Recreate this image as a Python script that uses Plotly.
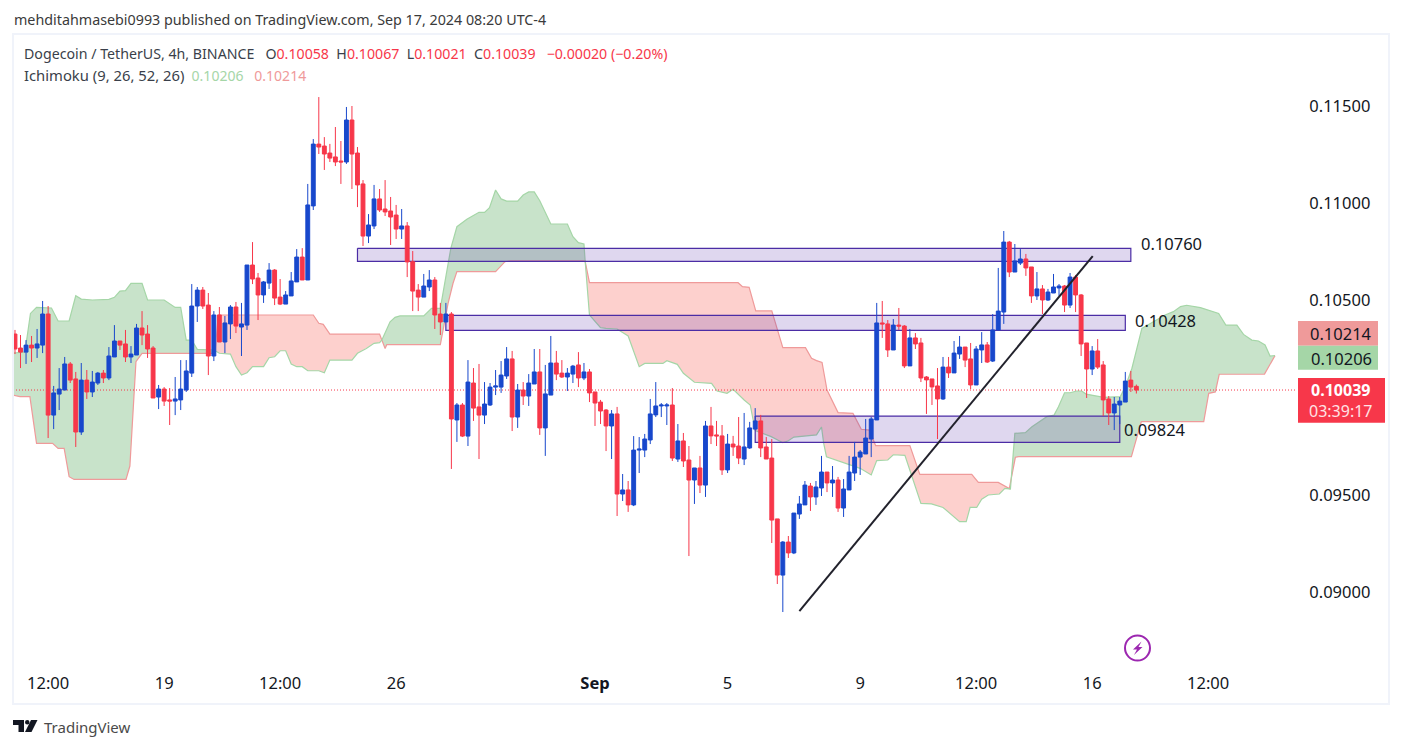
import pandas as pd
import numpy as np
import plotly.graph_objects as go

TICK = 1e-5  # prices below are in hundred-thousandths of a USDT
START = pd.Timestamp("2024-08-14 12:00")

opens = [10327,10255,10234,10270,10255,10270,10430,9910,10018,10039,
10173,10096,9823,10090,10029,10075,10126,10101,10209,10291,
10276,10209,10219,10358,10327,10255,10003,10044,9988,9982,
9988,10039,10126,10471,10553,10476,10214,10425,10286,10379,
10466,10363,10373,10682,10615,10528,10589,10656,10517,10481,
10523,10595,10723,10605,10986,11304,11294,11258,11238,11217,
11212,11428,11258,11099,10831,10883,11022,10970,10960,10939,
10867,10883,10699,10553,10517,10569,10605,10430,10389,10430,
9885,9962,9802,10075,9952,9910,9962,10054,10054,10111,
10199,9900,10039,10008,10070,10132,9844,10013,10178,10126,
10106,10121,10168,10101,10132,10029,9977,9936,9854,9916,
9504,9525,9448,9730,9730,9782,9911,9957,9957,9962,
9684,9777,9679,9576,9638,9550,9854,9808,9803,9628,
9761,9751,9684,9741,9838,9880,9746,9689,9376,9087,
9257,9201,9401,9448,9545,9489,9535,9617,9561,9576,
9432,9525,9612,9694,9710,9787,9885,10384,10379,10245,
10373,10368,10163,10307,10281,10106,10096,10060,9993,10157,
10127,10224,10260,10199,10065,10245,10271,10188,10348,10440,
10800,10646,10692,10713,10672,10523,10559,10502,10538,10564,
10574,10476,10620,10528,10281,10147,10240,10168,9993,9921,
9962,9977,10090,10058]

closes = [10250,10234,10270,10255,10276,10430,9910,10024,10044,10173,
10090,9823,10090,10029,10080,10126,10101,10214,10291,10270,
10209,10224,10358,10322,10250,9998,10044,9982,9982,9993,
10044,10137,10471,10553,10471,10214,10425,10286,10384,10466,
10368,10379,10682,10610,10528,10595,10656,10512,10481,10528,
10600,10723,10605,10991,11304,11289,11253,11232,11212,11212,
11428,11253,11094,10831,10888,11022,10965,10955,10929,10867,
10883,10698,10548,10517,10574,10605,10425,10389,10430,9890,
9962,9802,10080,9946,9910,9967,10054,10060,10116,10199,
9900,10039,10008,10075,10132,9844,10019,10178,10121,10106,
10126,10162,10101,10132,10024,9972,9931,9854,9916,9504,
9525,9448,9730,9735,9787,9916,9957,9962,9962,9689,
9777,9674,9576,9638,9550,9854,9803,9803,9628,9761,
9746,9689,9746,9844,9880,9741,9684,9370,9087,9257,
9201,9406,9453,9550,9489,9540,9617,9561,9576,9432,
9530,9617,9694,9720,9792,9890,10384,10379,10245,10373,
10368,10163,10307,10276,10101,10091,10055,9993,10157,10127,
10229,10260,10193,10065,10250,10271,10183,10348,10445,10800,
10646,10703,10713,10667,10523,10559,10502,10543,10569,10574,
10476,10620,10528,10276,10147,10240,10157,9988,9921,9967,
9982,10085,10054,10039]

highs = [10348,10322,10296,10317,10353,10497,10471,10060,10152,10209,
10183,10132,10178,10142,10137,10132,10142,10260,10373,10291,
10348,10265,10379,10445,10373,10265,10065,10054,10049,10106,
10193,10193,10584,10569,10569,10538,10445,10466,10420,10476,
10492,10487,10682,10800,10641,10600,10692,10661,10610,10548,
10646,10764,10769,11099,11330,11546,11340,11305,11392,11320,
11495,11500,11289,11119,10944,11094,11073,11119,11032,10991,
10970,10903,10754,10584,10636,10656,10620,10487,10487,10440,
9972,9972,10193,10152,10173,10080,10075,10142,10188,10260,
10240,10070,10080,10121,10250,10250,10168,10317,10240,10193,
10152,10168,10234,10178,10147,10029,9988,9941,9936,9952,
9607,9571,9802,9797,9813,9993,10080,9972,9972,10049,
9864,9818,9751,9638,9700,9880,9952,9880,9859,9813,
9803,9900,9921,9875,9946,9911,9797,9787,9376,9262,
9288,9406,9494,9571,9561,9571,9700,9617,9648,9592,
9581,9700,9772,9730,9890,9900,10487,10497,10399,10404,
10461,10373,10353,10332,10307,10111,10096,10152,10209,10209,
10291,10317,10260,10281,10265,10337,10286,10430,10667,10857,
10806,10790,10764,10739,10672,10646,10579,10559,10636,10584,
10579,10641,10631,10533,10281,10265,10301,10188,10008,10003,
10003,10132,10137,10067]

lows = [10224,10152,10173,10183,10204,10229,9792,9838,9936,10039,
10075,9746,9808,9993,10003,10065,10075,10090,10209,10245,
10183,10178,10219,10270,10204,9998,9941,9957,9859,9910,
9936,10029,10106,10389,10456,10116,10188,10286,10229,10301,
10332,10214,10348,10584,10399,10487,10559,10476,10476,10481,
10523,10595,10605,10605,10965,11253,11171,11212,11191,11099,
11202,11073,10980,10780,10795,10867,10955,10934,10785,10816,
10816,10620,10445,10445,10517,10548,10353,10322,10389,9633,
9772,9797,9751,9880,9684,9864,9957,10013,10024,10096,
9828,9844,9962,9957,10070,9808,9700,10013,10090,10101,
10034,10075,10054,10090,9977,9854,9864,9725,9684,9391,
9468,9412,9442,9612,9694,9761,9900,9900,9859,9674,
9669,9643,9185,9453,9509,9489,9761,9751,9602,9612,
9700,9658,9653,9736,9838,9694,9684,9252,9041,8897,
9175,9195,9376,9448,9417,9448,9494,9514,9489,9412,
9386,9525,9571,9602,9710,9694,9885,10307,10209,10245,
10348,10152,10163,10250,10080,9916,9962,9787,9988,10101,
10127,10199,10157,10044,10065,10178,10178,10183,10348,10379,
10620,10646,10682,10626,10487,10502,10430,10497,10538,10523,
10440,10461,10440,10214,9998,10116,10147,9905,9859,9833,
9864,9977,10029,10021]

# Ichimoku leading spans: bar number (from first candle) and price
span_a_bar = [-1,1.8,2.8,3.9,6.6,7.8,9.8,11,12,14,17,18,19,20,21,23,24,27,29,30,31,32,33,36,37,39,40,41,42,43,45,46,47,48,49,50,51,52,53,55,56,
              57,61,62,63.6,65,66,66.4,67.9,68.8,69.7,74,75.4,77,78,78.9,80,81.8,84,85,85.9,87,88,89,91,92,93,94,95,97,100,101,102,103,103.2,104,106,107,109,111,113,114,
              115,117.3,118,119.9,121,123,126.1,127.1,128.9,130,132,133.1,134,136.9,139,140,141,145.1,146,146.4,146.9,149.9,153,155,156,158,159,161.1,164,165.9,168,171,172.2,172.9,174.1,175,176.2,178.2,179.2,180.2,180.8,181,182.9,184.1,186.8,188.1,188.9,190,191,192.2,193.1,193.9,197.1,200.1,201,202.2,204,208.2,209.7,211,212.1,214.6,217.9,219.2,221.2,222.4,223.9,225.1,226.3,227.2,228.1]
span_a = [10228,10234,10433,10464,10461,10394,10394,10524,10507,10502,10505,10516,10548,10550,10588,10588,10502,10502,10464,10464,10296,10296,10248,10245,10228,10224,10159,10116,10128,10159,10159,10205,10210,10241,10241,10173,10159,10159,10138,10138,10128,
          10193,10193,10228,10253,10279,10283,10295,10390,10413,10420,10420,10459,10459,10622,10768,10879,10917,10953,10953,10977,11068,11022,11011,11011,11042,11058,11058,11013,10893,10893,10828,10797,10790,10708,10425,10360,10356,10353,10317,10159,10176,
          10176,10176,10190,10171,10125,10079,10073,10034,10022,10043,9988,9962,9830,9799,9768,9778,9797,9808,9849,9765,9696,9665,9636,9602,9676,9679,9706,9703,9456,9453,9435,9362,9362,9435,9435,9477,9499,9504,9533,9530,9782,9816,9820,9850,9902,9910,9953,10025,10025,10034,10034,10018,10001,10005,10056,10151,10356,10425,10442,10468,10475,10463,10433,10373,10373,10325,10296,10291,10271,10214,10216]

span_b_bar = [-1,0.9,2.7,3.9,6.8,7.8,8.9,9.8,10.7,20.1,20.8,21.9,23,36.2,36.8,54,55,55.8,57,66,67,67.3,77,78.4,79.3,80,87,88.7,89.6,103.2,104,130.9,131.7,132.9,134.1,137,139,143.1,144.2,145.1,146.1,147,149,151.7,153.2,154.7,155.8,162,163.8,173.2,174.4,178,180,181.1,181.7,202.1,203.9,215.2,216.1,217.3,218,226.2,228.1]
span_b = [10017,10005,10005,9765,9765,9739,9739,9593,9579,9579,9648,10185,10228,10228,10425,10425,10382,10377,10327,10327,10253,10272,10272,10485,10588,10648,10648,10699,10703,10703,10591,10591,10571,10567,10446,10446,10257,10257,10202,10190,10181,10039,9923,9919,9837,9833,9753,9753,9605,9605,9564,9564,9532,9693,9696,9696,9876,9876,10022,10029,10120,10121,10216]

# bars where span A and span B cross over
cloud_cross = [-1, 36.2, 66.3, 103.3, 180.3, 228.1]
cloud_top_green = [True, False, True, False, True]

# Drawn zones: first bar, last bar, top price, bottom price, label
zone_bar_start = [62, 78, 134]
zone_bar_end = [202, 201, 200]
zone_top = [10768, 10423, 9905]
zone_bottom = [10701, 10346, 9770]
zone_labels = ["0.10760", "0.10428", "0.09824"]

trend_bars = [142, 195.1]
trend_prices = [8902, 10728]

last_price = 10039
price_ticks = [9000, 9500, 10000, 10500, 11000, 11500]
time_tick_stamps = ["2024-08-15 12:00","2024-08-19 00:00","2024-08-22 12:00","2024-08-26 00:00",
                    "2024-09-01 00:00","2024-09-05 00:00","2024-09-09 00:00","2024-09-12 12:00",
                    "2024-09-16 00:00","2024-09-19 12:00"]
time_tick_labels = ["12:00","19","12:00","26","<b>Sep</b>","5","9","12:00","16","12:00"]

assert len(opens) == len(closes) == len(highs) == len(lows) == 204
assert len(span_a) == len(span_a_bar) and len(span_b) == len(span_b_bar)

W, H = 1402, 748
L, R, T, B = 13, 1296, 34, 665
BLUE, RED = "#1848CC", "#F7374A"
GREEN_L, RED_L = "#A5D6A7", "#EF9A9A"
GREEN_F, RED_F = "rgb(200,227,202)", "rgb(253,208,205)"
FONT = "Noto Sans"
INK = "#131722"

def stamp(b):
    return (START + pd.Timedelta(hours=4 * b)).strftime("%Y-%m-%d %H:%M:%S")
def stamps(bs):
    return [stamp(b) for b in bs]
def pr(v):
    return np.asarray(v, dtype=float) * TICK
def xp(x):
    return (x - L) / (R - L)
def yp(y):
    return (B - y) / (B - T)

yrange = [0.115 - (B - 106) / 19440, 0.115 + (106 - T) / 19440]
xrange_ = [stamp(-0.36), stamp(231.9)]

fig = go.Figure()

# Kumo fill between the two spans, split where they cross
ab, av = np.array(span_a_bar, float), np.array(span_a, float)
bb, bv = np.array(span_b_bar, float), np.array(span_b, float)
for c0, c1, green in zip(cloud_cross[:-1], cloud_cross[1:], cloud_top_green):
    ma, mb = (ab > c0) & (ab < c1), (bb > c0) & (bb < c1)
    xa = [c0] + list(ab[ma]) + [c1]
    ya = [np.interp(c0, ab, av)] + list(av[ma]) + [np.interp(c1, ab, av)]
    xb = [c0] + list(bb[mb]) + [c1]
    yb = [np.interp(c0, bb, bv)] + list(bv[mb]) + [np.interp(c1, bb, bv)]
    fig.add_trace(go.Scatter(x=stamps(xa + xb[::-1]), y=pr(ya + yb[::-1]), mode="lines",
                             line=dict(width=0), fill="toself",
                             fillcolor=GREEN_F if green else RED_F, hoverinfo="skip"))
fig.add_trace(go.Scatter(x=stamps(span_b_bar), y=pr(span_b), mode="lines", line=dict(color=RED_L, width=1.2), hoverinfo="skip"))
fig.add_trace(go.Scatter(x=stamps(span_a_bar), y=pr(span_a), mode="lines", line=dict(color=GREEN_L, width=1.2), hoverinfo="skip"))

# last price line
fig.add_trace(go.Scatter(x=[xrange_[0], xrange_[1]], y=pr([last_price, last_price]), mode="lines",
                         line=dict(color=RED, width=1, dash="1px,2px"), hoverinfo="skip"))

# drawn zones
for b0, b1, tp, bt in zip(zone_bar_start, zone_bar_end, zone_top, zone_bottom):
    fig.add_trace(go.Scatter(x=stamps([b0, b1, b1, b0, b0]), y=pr([tp, tp, bt, bt, tp]), mode="lines",
                             line=dict(color="#4B2DA5", width=1.2), fill="toself",
                             fillcolor="rgba(94,53,177,0.2)", hoverinfo="skip"))

# candles on an overlay so they sit above the fills
all_bars = list(range(len(opens)))
fig.add_trace(go.Candlestick(x=stamps(all_bars), open=pr(opens), high=pr(highs), low=pr(lows), close=pr(closes),
                             xaxis="x2", yaxis="y2", whiskerwidth=0,
                             increasing=dict(line=dict(color=BLUE, width=1), fillcolor=BLUE),
                             decreasing=dict(line=dict(color=RED, width=1), fillcolor=RED),
                             hoverinfo="skip"))
fig.add_trace(go.Scatter(x=stamps(trend_bars), y=pr(trend_prices), mode="lines", xaxis="x2", yaxis="y2",
                         line=dict(color="#22222C", width=2), hoverinfo="skip"))

def text(x, y, s, size, color=INK, anchor="left"):
    return dict(xref="paper", yref="paper", x=xp(x), y=yp(y), text=s, showarrow=False,
                xanchor=anchor, yanchor="middle", align=anchor, borderpad=0,
                font=dict(family=FONT, size=size, color=color))

NB = "\u00a0"
def sp(s, c):
    return f'<span style="color:{c}">{s}</span>'

line1 = ("Dogecoin / TetherUS, 4h, BINANCE" + NB*3 + "O" + sp("0.10058", RED) + NB*2 + "H" + sp("0.10067", RED) + NB*2 +
         "L" + sp("0.10021", RED) + NB*2 + "C" + sp("0.10039", RED) + NB*3 + sp("\u22120.00020 (\u22120.20%)", RED))
line2 = ('<span style="font-size:14.8px">Ichimoku (9, 26, 52, 26)</span>' + NB*2 + sp("0.10206", GREEN_L) + NB*3 + sp("0.10214", RED_L))

annotations = [
    text(13, 20, "mehditahmasebi0993 published on TradingView.com, Sep 17, 2024 08:20 UTC-4", 14.3, "#3a3a3a"),
    text(23, 54, line1, 14.2, "#3a3f4a"),
    text(23, 75, line2, 14, "#3a3f4a"),
    text(1140, 243, zone_labels[0], 16.5),
    text(1134, 321, zone_labels[1], 16.5),
    text(1123, 430, zone_labels[2], 16.5),
    text(1341, 333.5, "0.10214", 16.5, anchor="center"),
    text(1341, 358, "0.10206", 16.5, anchor="center"),
    text(1341, 400.5, '<b>0.10039</b><br><span style="color:#FFE3E5">03:39:17</span>', 16, "#FFFFFF", anchor="center"),
    text(43, 727, "TradingView", 15, "#4a4a4a"),
]

def rect(x0, y0, x1, y1, fill=None, line=None, lw=0):
    return dict(type="rect", xref="paper", yref="paper", x0=xp(x0), x1=xp(x1), y0=yp(y0), y1=yp(y1),
                fillcolor=fill or "rgba(0,0,0,0)", line=dict(color=line or "rgba(0,0,0,0)", width=lw), layer="above")
def poly(pts, fill):
    d = "M " + " L ".join(f"{xp(x):.5f},{yp(y):.5f}" for x, y in pts) + " Z"
    return dict(type="path", xref="paper", yref="paper", path=d, fillcolor=fill, line=dict(width=0), layer="above")

shapes = [
    rect(13, 34, 1389, 704, line="#F0F3FA", lw=2),
    rect(1298, 321, 1378, 345.7, fill=RED_L),
    rect(1298, 345.7, 1378, 369.7, fill=GREEN_L),
    rect(1298, 378, 1385, 422.7, fill=RED),
    dict(type="circle", xref="paper", yref="paper", x0=xp(1125), x1=xp(1150), y0=yp(635.5), y1=yp(660.5),
         line=dict(color="#9C27B0", width=2), fillcolor="rgba(0,0,0,0)", layer="above"),
    poly([(1141.5,641.5),(1133,649.5),(1137,649.5),(1134,655),(1142.5,647),(1138.5,647)], "#9C27B0"),
    poly([(13,720),(24,720),(24,732),(18.5,732),(18.5,725),(13,725)], "#131722"),
    poly([(31,720),(37.5,720),(31.5,732),(25,732)], "#131722"),
    dict(type="circle", xref="paper", yref="paper", x0=xp(25), x1=xp(29.5), y0=yp(720), y1=yp(724.5),
         fillcolor="#131722", line=dict(width=0), layer="above"),
]

fig.update_layout(
    width=W, height=H, autosize=False, showlegend=False,
    paper_bgcolor="#FFFFFF", plot_bgcolor="#FFFFFF",
    margin=dict(l=L, r=W - R, t=T, b=H - B, pad=0),
    boxgap=0, annotations=annotations, shapes=shapes,
    xaxis=dict(type="date", range=xrange_, tickvals=time_tick_stamps, ticktext=time_tick_labels,
               showgrid=False, zeroline=False, showline=False, ticks="outside", ticklen=3,
               tickcolor="rgba(0,0,0,0)", tickfont=dict(family=FONT, size=16.5, color=INK),
               tickangle=0, rangeslider=dict(visible=False)),
    yaxis=dict(range=yrange, side="right", tickvals=list(pr(price_ticks)), tickformat=".5f",
               showgrid=False, zeroline=False, showline=False, ticks="outside", ticklen=9,
               tickcolor="rgba(0,0,0,0)", tickfont=dict(family=FONT, size=16.5, color=INK)),
    xaxis2=dict(type="date", range=xrange_, overlaying="x", visible=False, rangeslider=dict(visible=False)),
    yaxis2=dict(range=yrange, overlaying="y", side="right", visible=False),
)

fig.write_html("out.html", config=dict(displayModeBar=False),
               post_script="document.body.style.margin='0';document.documentElement.style.overflow='hidden';")
